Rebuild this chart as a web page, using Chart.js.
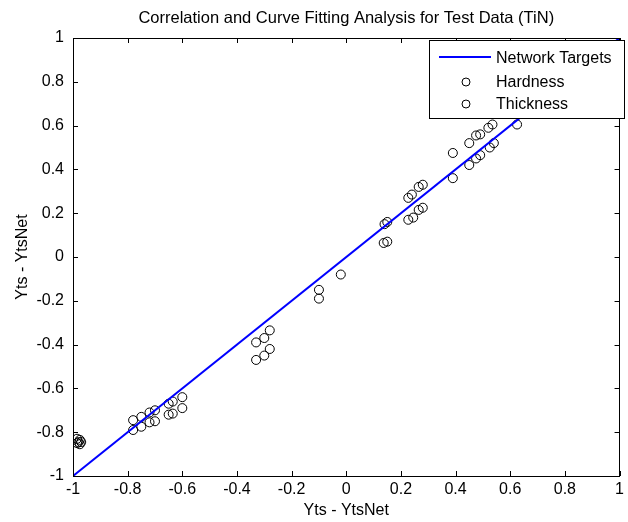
<!DOCTYPE html>
<html>
<head>
<meta charset="utf-8">
<script src="https://cdn.jsdelivr.net/npm/chart.js@4.4.1/dist/chart.umd.min.js"></script>
<style>
  html, body { margin: 0; padding: 0; background: #fff; }
  canvas { display: block; }
</style>
</head>
<body>
<canvas id="chart" width="628" height="522"></canvas>
<script>
// Network targets line (y = x)
const targetX = [-1, 1];
const targetY = [-1, 1];

// Hardness points
const hardnessX = [-0.985, -0.975, -0.98, -0.78, -0.75, -0.72, -0.70, -0.65, -0.635, -0.60,
  -0.33, -0.30, -0.28, -0.10, -0.02,
  0.14, 0.15, 0.227, 0.24, 0.265, 0.28, 0.39, 0.45, 0.475, 0.49, 0.52, 0.535, 0.625];
const hardnessY = [-0.83, -0.835, -0.845, -0.745, -0.73, -0.71, -0.70, -0.67, -0.66, -0.64,
  -0.39, -0.37, -0.335, -0.15, -0.08,
  0.15, 0.16, 0.27, 0.285, 0.32, 0.33, 0.475, 0.52, 0.555, 0.56, 0.59, 0.605, 0.605];

// Thickness points
const thicknessX = [-0.985, -0.975, -0.97, -0.78, -0.75, -0.72, -0.70, -0.65, -0.635, -0.60,
  -0.33, -0.30, -0.28, -0.10,
  0.137, 0.15, 0.227, 0.245, 0.265, 0.28, 0.39, 0.45, 0.475, 0.49, 0.525, 0.54];
const thicknessY = [-0.85, -0.855, -0.845, -0.79, -0.775, -0.755, -0.75, -0.72, -0.715, -0.69,
  -0.47, -0.45, -0.42, -0.19,
  0.064, 0.07, 0.17, 0.18, 0.215, 0.225, 0.36, 0.42, 0.45, 0.465, 0.50, 0.52];

const axisMin = -1;
const axisMax = 1;
const tickStep = 0.2;

const titleText = "Correlation and Curve Fitting Analysis for Test Data (TiN)";
const FONT = "Liberation Sans, Arial, sans-serif";

function toPoints(xs, ys) {
  return xs.map((x, i) => ({ x: x, y: ys[i] }));
}

function tickLabel(v) {
  return Number(v.toFixed(1)).toString();
}

// title over the axes, frame, inward tick marks and the legend box
const matlabAxes = {
  id: "matlabAxes",
  afterDraw(chart) {
    const ctx = chart.ctx;
    const a = chart.chartArea;
    const xs = chart.scales.x;
    const ys = chart.scales.y;
    const len = 5;

    ctx.save();
    // title centred on the plot box
    ctx.fillStyle = "#000";
    ctx.font = "16.5px " + FONT;
    ctx.textAlign = "center";
    ctx.textBaseline = "middle";
    ctx.fillText(titleText, (a.left + a.right) / 2, 18);

    ctx.strokeStyle = "#000";
    ctx.lineWidth = 1;
    ctx.beginPath();
    xs.ticks.forEach(t => {
      const px = Math.round(xs.getPixelForValue(t.value)) + 0.5;
      ctx.moveTo(px, a.bottom);
      ctx.lineTo(px, a.bottom - len);
      ctx.moveTo(px, a.top);
      ctx.lineTo(px, a.top + len);
    });
    ys.ticks.forEach(t => {
      const py = Math.round(ys.getPixelForValue(t.value)) + 0.5;
      ctx.moveTo(a.left, py);
      ctx.lineTo(a.left + len, py);
      ctx.moveTo(a.right, py);
      ctx.lineTo(a.right - len, py);
    });
    ctx.stroke();
    ctx.strokeRect(Math.round(a.left) + 0.5, Math.round(a.top) + 0.5,
      Math.round(a.right - a.left) - 1, Math.round(a.bottom - a.top));

    // legend
    const bx = 429.5, by = 40.5, bw = 195, bh = 78;
    ctx.fillStyle = "#fff";
    ctx.fillRect(bx, by, bw, bh);
    ctx.strokeRect(bx, by, bw, bh);

    const rows = [58, 82, 104];
    ctx.font = "16px " + FONT;
    ctx.textBaseline = "middle";
    ctx.textAlign = "left";
    chart.data.datasets.forEach((ds, i) => {
      const y = rows[i];
      if (ds.type === "line") {
        ctx.strokeStyle = ds.borderColor;
        ctx.lineWidth = 2;
        ctx.beginPath();
        ctx.moveTo(439, y - 1);
        ctx.lineTo(491, y - 1);
        ctx.stroke();
      } else {
        ctx.strokeStyle = "#000";
        ctx.lineWidth = 1;
        ctx.beginPath();
        ctx.arc(466, y, 4, 0, Math.PI * 2);
        ctx.stroke();
      }
      ctx.fillStyle = "#000";
      ctx.fillText(ds.label, 496, y + 1);
    });
    ctx.restore();
  }
};

new Chart(document.getElementById("chart"), {
  type: "scatter",
  data: {
    datasets: [
      {
        type: "line",
        label: "Network Targets",
        data: toPoints(targetX, targetY),
        borderColor: "#0000ff",
        borderWidth: 2,
        pointRadius: 0,
        fill: false,
        order: 0
      },
      {
        label: "Hardness",
        data: toPoints(hardnessX, hardnessY),
        pointRadius: 4.5,
        pointBorderColor: "#000",
        pointBackgroundColor: "rgba(0,0,0,0)",
        pointBorderWidth: 1,
        order: 1
      },
      {
        label: "Thickness",
        data: toPoints(thicknessX, thicknessY),
        pointRadius: 4.5,
        pointBorderColor: "#000",
        pointBackgroundColor: "rgba(0,0,0,0)",
        pointBorderWidth: 1,
        order: 2
      }
    ]
  },
  options: {
    responsive: false,
    animation: false,
    layout: { autoPadding: false, padding: { left: 0, right: 1, top: 38, bottom: 0 } },
    plugins: {
      legend: { display: false },
      tooltip: { enabled: false },
      title: { display: false }
    },
    scales: {
      x: {
        type: "linear",
        min: axisMin,
        max: axisMax,
        afterFit: s => { s.height = 46; },
        ticks: {
          stepSize: tickStep,
          color: "#000",
          font: { family: FONT, size: 16 },
          padding: 4,
          maxRotation: 0,
          autoSkip: false,
          callback: tickLabel
        },
        grid: { drawOnChartArea: false, drawTicks: false },
        border: { display: false },
        title: {
          display: true,
          text: "Yts - YtsNet",
          color: "#000",
          font: { family: FONT, size: 16 },
          padding: { top: 0, bottom: 2 }
        }
      },
      y: {
        type: "linear",
        min: axisMin,
        max: axisMax,
        afterFit: s => { s.width = 73; },
        ticks: {
          stepSize: tickStep,
          color: "#000",
          font: { family: FONT, size: 16 },
          padding: 9,
          autoSkip: false,
          callback: tickLabel
        },
        grid: { drawOnChartArea: false, drawTicks: false },
        border: { display: false },
        title: {
          display: true,
          text: "Yts - YtsNet",
          color: "#000",
          font: { family: FONT, size: 16 },
          padding: { top: 13, bottom: 0 }
        }
      }
    }
  },
  plugins: [matlabAxes]
});
</script>
</body>
</html>
